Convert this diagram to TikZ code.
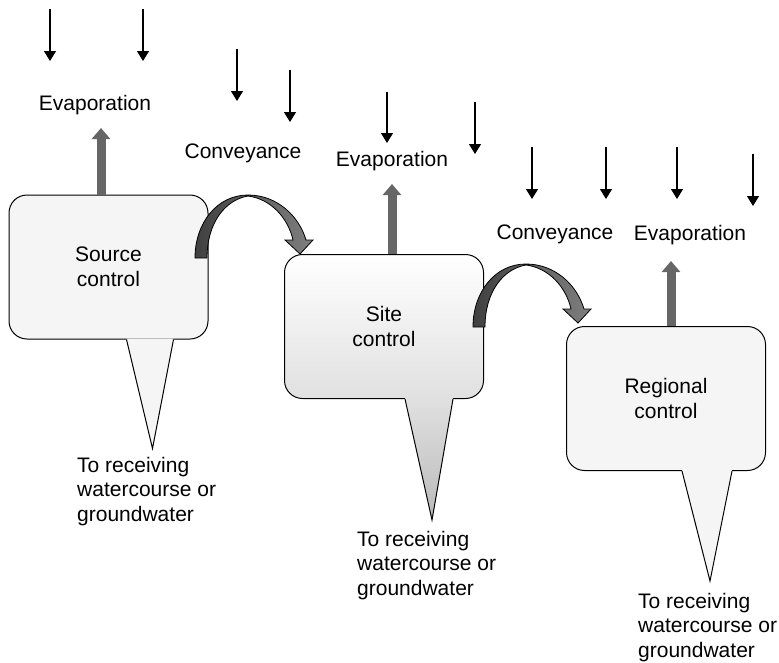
\documentclass[tikz,border=0pt]{standalone}
\usepackage{fontspec}
\setmainfont{Liberation Sans}
\usetikzlibrary{arrows.meta,shapes,positioning}

\begin{document}
\begin{tikzpicture}[x=1pt, y=-1pt,
every node/.style = {align=center, inner sep=0pt,
font=\fontsize{21}{24.5}\selectfont},
control/.style = {draw=black, line width=1pt, rounded corners=18pt,
minimum width=199pt, minimum height=144pt},
rain/.style = {line width=1.2pt, -{Triangle[width=12pt,length=10pt]}},
evapflow/.style = {line width=9pt, draw=black!60,
-{Triangle[width=18pt,length=11pt]}},
outflow/.style = {align=left, anchor=north west},
conveyarrow/.pic = {
  \shadedraw[line width=0.8pt, left color=black!75, middle color=black!5,
  right color=black!50]
  (0,0) .. controls (0,-35) and (22,-63) .. (53,-63)
  .. controls (82,-63) and (104,-42) .. (111,-18)
  -- (118,-18) -- (105,-4) -- (90,-18) -- (98,-18)
  .. controls (93,-40) and (76,-59) .. (53,-62)
  .. controls (30,-58) and (12,-35) .. (12,0) -- cycle;
} ]
\useasboundingbox (0,0) rectangle (779,662);

% rain
\foreach \x/\ya/\yb in {50/9/61, 143/9/61, 237/49/101, 290/70/122,
  387/92/143, 475/102/154, 532/147/199, 606/147/199, 677/147/199,
  753/154/206}
  \draw[rain] (\x,\ya) -- (\x,\yb);

% labels
\node[anchor=base] (evap1) at (95,110) {Evaporation};
\node[anchor=base] (convey1) at (243,158) {Conveyance};
\node[anchor=base] (evap2) at (392,166) {Evaporation};
\node[anchor=base] (convey2) at (555,239) {Conveyance};
\node[anchor=base] (evap3) at (690,240) {Evaporation};

% control boxes
\node[control, fill=black!4] (source) at (108.5,267) {Source\\control};
\node[control, top color=white, bottom color=black!12] (site)
  at (384,326.5) {Site\\control};
\node[control, fill=black!4] (regional) at (666,398.5) {Regional\\control};

% tails
\fill[black!4] ([xshift=18pt,yshift=1pt]source.south)
  -- ([xshift=44pt,yshift=-109pt]source.south)
  -- ([xshift=65pt,yshift=1pt]source.south) -- cycle;
\draw[line width=1pt] ([xshift=18pt]source.south)
  -- ([xshift=44pt,yshift=-109pt]source.south)
  -- ([xshift=65pt]source.south);
\shade[top color=black!12, bottom color=black!27]
  ([xshift=21pt,yshift=1pt]site.south)
  -- ([xshift=48pt,yshift=-121pt]site.south)
  -- ([xshift=69pt,yshift=1pt]site.south) -- cycle;
\draw[line width=1pt] ([xshift=21pt]site.south)
  -- ([xshift=48pt,yshift=-121pt]site.south)
  -- ([xshift=69pt]site.south);
\fill[black!4] ([xshift=16pt,yshift=1pt]regional.south)
  -- ([xshift=44pt,yshift=-110pt]regional.south)
  -- ([xshift=66pt,yshift=1pt]regional.south) -- cycle;
\draw[line width=1pt] ([xshift=16pt]regional.south)
  -- ([xshift=44pt,yshift=-110pt]regional.south)
  -- ([xshift=66pt]regional.south);

% evaporation
\coordinate (up1) at (101,128);
\coordinate (up2) at (392,184);
\coordinate (up3) at (671,261);
\draw[evapflow] (source.north -| up1) -- (up1);
\draw[evapflow] (site.north -| up2) -- (up2);
\draw[evapflow] (regional.north -| up3) -- (up3);

% conveyance
\pic at (195,258) {conveyarrow};
\pic at (473,327) {conveyarrow};

% outflow
\node[outflow] (out1) at (77,457) {To receiving\\watercourse or\\groundwater};
\node[outflow] (out2) at (357,531) {To receiving\\watercourse or\\groundwater};
\node[outflow] (out3) at (638,593) {To receiving\\watercourse or\\groundwater};
\end{tikzpicture}
\end{document}
